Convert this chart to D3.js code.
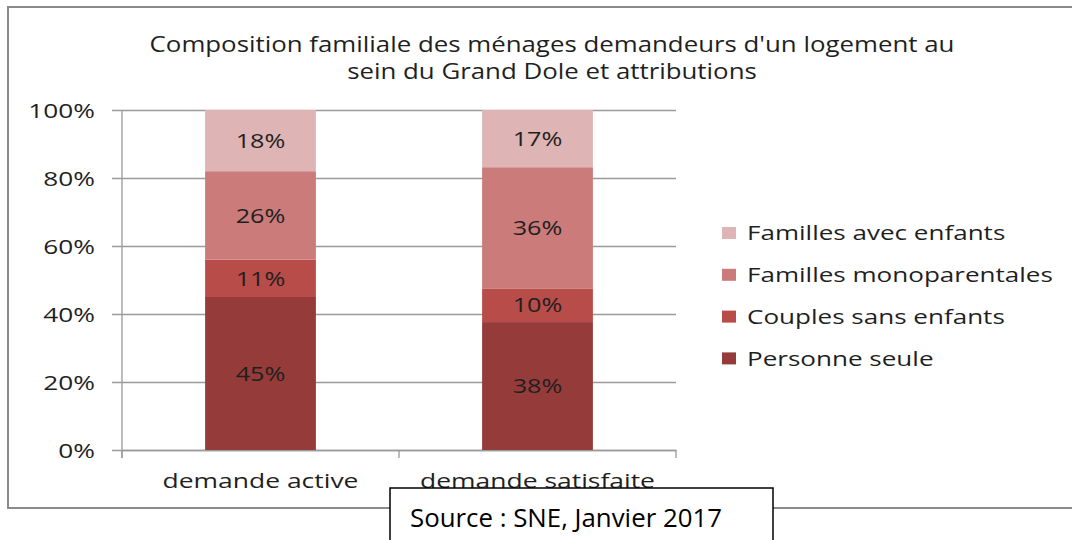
<!DOCTYPE html>
<html>
<head>
<meta charset="utf-8">
<script src="https://cdn.jsdelivr.net/npm/d3@7"></script>
<style>
  html, body { margin: 0; padding: 0; background: #fff; }
  svg { display: block; }
  text { font-family: "Open Sans", "Noto Sans", sans-serif; fill: #1f1f1f; }
</style>
</head>
<body>
<svg id="chart" width="1072" height="540"></svg>
<script>
// Composition familiale des ménages (parts en %)
const categories = ["demande active", "demande satisfaite"];
const seriesNames = ["Personne seule", "Couples sans enfants", "Familles monoparentales", "Familles avec enfants"];
const personneSeule = [45, 38];
const couplesSansEnfants = [11, 10];
const famillesMonoparentales = [26, 36];
const famillesAvecEnfants = [18, 17];
const yTickLabels = ["0%", "20%", "40%", "60%", "80%", "100%"];
const titleLines = ["Composition familiale des ménages demandeurs d'un logement au", "sein du Grand Dole et attributions"];
const sourceText = "Source : SNE, Janvier 2017";

const colors = ["#953b3a", "#b84c49", "#ca7b7a", "#dfb4b4"];

const seriesValues = [personneSeule, couplesSansEnfants, famillesMonoparentales, famillesAvecEnfants];
const rows = categories.map((c, i) => {
  const r = { category: c };
  seriesNames.forEach((s, j) => { r[s] = seriesValues[j][i]; });
  return r;
});

const svg = d3.select("#chart");
const plot = { left: 122, right: 676, top: 110, bottom: 450 };

// Horizontal widening of glyphs, as in the exported chart image
function widen(sel, k) {
  sel.each(function () {
    const w = this.getComputedTextLength();
    this.setAttribute("textLength", (w * k).toFixed(1));
    this.setAttribute("lengthAdjust", "spacingAndGlyphs");
  });
}

// Outer chart frame (open on the right)
svg.append("rect")
  .attr("x", 8).attr("y", 7).attr("width", 1100).attr("height", 501)
  .attr("fill", "#fff").attr("stroke", "#8a8a8a").attr("stroke-width", 2);

// Title
svg.append("g").selectAll("text").data(titleLines).join("text")
  .attr("x", 552).attr("y", (d, i) => 52 + i * 27)
  .attr("text-anchor", "middle")
  .attr("font-size", 21)
  .text(d => d)
  .call(widen, 1.23);

const x = d3.scaleBand().domain(categories)
  .range([plot.left, plot.right]).paddingInner(0.6).paddingOuter(0.3);
const y = d3.scaleLinear().domain([0, 1]).range([plot.bottom, plot.top]);

// Gridlines + left ticks
const yAxis = d3.axisLeft(y).tickValues(d3.range(0, 1.0001, 0.2))
  .tickSize(-(plot.right - plot.left)).tickFormat((d, i) => yTickLabels[i]);
const gy = svg.append("g").attr("transform", `translate(${plot.left},0)`).call(yAxis);
gy.select(".domain").remove();
gy.selectAll(".tick line").attr("stroke", "#9a9a9a").attr("stroke-width", 1.3)
  .attr("x1", -10);
gy.selectAll(".tick text")
  .attr("x", -27).attr("dy", "0.36em")
  .attr("font-size", 20.5).attr("fill", "#1f1f1f")
  .style("font-family", "'Open Sans', sans-serif")
  .call(widen, 1.28);

// Vertical axis line
svg.append("line")
  .attr("x1", plot.left).attr("x2", plot.left)
  .attr("y1", plot.top).attr("y2", plot.bottom + 8)
  .attr("stroke", "#9a9a9a").attr("stroke-width", 1.3);

// Category axis
const xAxis = d3.axisBottom(x).tickSize(0).tickSizeOuter(0);
const gx = svg.append("g").attr("transform", `translate(0,${plot.bottom})`).call(xAxis);
gx.select(".domain").attr("stroke", "#9a9a9a").attr("stroke-width", 1.3);
gx.selectAll(".tick text")
  .attr("y", 38).attr("dy", 0)
  .attr("font-size", 20.5).attr("fill", "#1f1f1f")
  .style("font-family", "'Open Sans', sans-serif")
  .call(widen, 1.29);
// Category separators
const step = x.step();
const bounds = [plot.left].concat(categories.map(c => x(c) + x.bandwidth() / 2 + step / 2));
svg.append("g").selectAll("line").data(bounds).join("line")
  .attr("x1", d => d).attr("x2", d => d)
  .attr("y1", plot.bottom).attr("y2", plot.bottom + 8)
  .attr("stroke", "#9a9a9a").attr("stroke-width", 1.3);

// Stacked 100% bars
const stack = d3.stack().keys(seriesNames).offset(d3.stackOffsetExpand);
const layers = stack(rows);

const gBars = svg.append("g");
layers.forEach((layer, j) => {
  gBars.append("g").attr("fill", colors[j])
    .selectAll("rect").data(layer).join("rect")
    .attr("x", d => x(d.data.category))
    .attr("width", x.bandwidth())
    .attr("y", d => y(d[1]))
    .attr("height", d => y(d[0]) - y(d[1]));
});

// Value labels
layers.forEach((layer, j) => {
  gBars.append("g").selectAll("text").data(layer).join("text")
    .attr("x", d => x(d.data.category) + x.bandwidth() / 2)
    .attr("y", d => (y(d[0]) + y(d[1])) / 2)
    .attr("dy", "0.36em")
    .attr("text-anchor", "middle")
    .attr("font-size", 20)
    .attr("fill", "#141414")
    .text(d => d.data[layer.key] + "%")
    .call(widen, 1.26);
});

// Legend (top to bottom: last series first)
const legendItems = seriesNames.map((s, j) => ({ name: s, color: colors[j] })).reverse();
const legend = svg.append("g").attr("transform", "translate(722,233)");
const li = legend.selectAll("g").data(legendItems).join("g")
  .attr("transform", (d, i) => `translate(0,${i * 41.8})`);
li.append("rect").attr("x", 0).attr("y", -6).attr("width", 14).attr("height", 12)
  .attr("fill", d => d.color);
li.append("text").attr("x", 25).attr("dy", "0.36em")
  .attr("font-size", 20.5).text(d => d.name)
  .call(widen, 1.27);

// Source box
svg.append("rect")
  .attr("x", 390).attr("y", 488).attr("width", 383).attr("height", 70)
  .attr("fill", "#fff").attr("stroke", "#000").attr("stroke-width", 1.5);
svg.append("text")
  .attr("x", 410).attr("y", 527)
  .attr("font-size", 25.5)
  .style("fill", "#000")
  .text(sourceText)
  .call(sel => sel.each(function () {
    this.setAttribute("textLength", 312);
    this.setAttribute("lengthAdjust", "spacingAndGlyphs");
  }));
</script>
</body>
</html>
